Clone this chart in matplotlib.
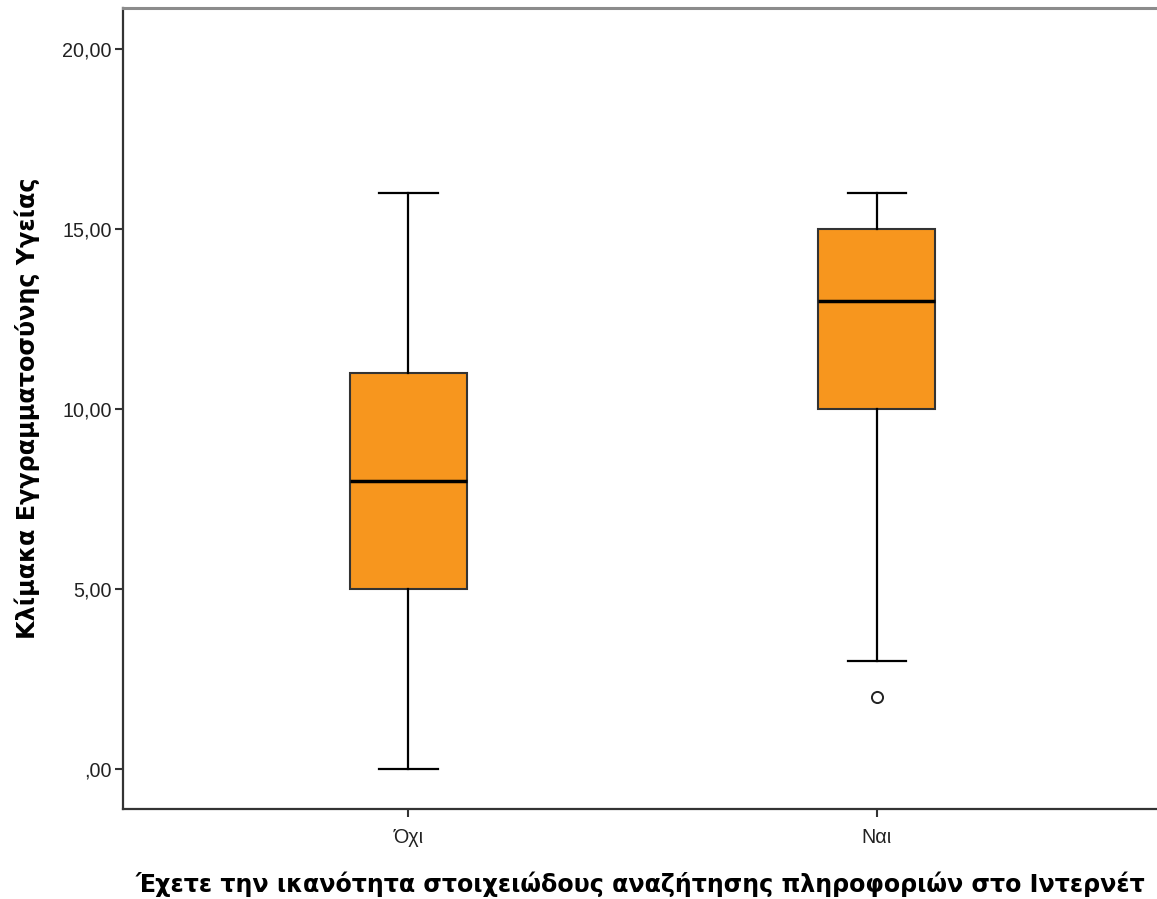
import matplotlib.pyplot as plt

# Summary statistics per group (SPSS-style boxplot)
groups = ['Όχι', 'Ναι']
q1 = [5.0, 10.0]
median = [8.0, 13.0]
q3 = [11.0, 15.0]
whisker_low = [0.0, 3.0]
whisker_high = [16.0, 16.0]
outliers = [[], [2.0]]

yticks = [0, 5, 10, 15, 20]
ytick_labels = [',00', '5,00', '10,00', '15,00', '20,00']

stats = []
for i, name in enumerate(groups):
    stats.append({
        'label': name,
        'q1': q1[i], 'med': median[i], 'q3': q3[i],
        'whislo': whisker_low[i], 'whishi': whisker_high[i],
        'fliers': outliers[i],
    })

fig = plt.figure(figsize=(11.57, 8.99), dpi=100)
ax = fig.add_axes([0.1063, 0.1001, 0.8945, 0.891])

ax.bxp(stats, positions=[1, 2], widths=0.25, patch_artist=True,
       boxprops=dict(facecolor='#f7961e', edgecolor='#333333', linewidth=1.5),
       medianprops=dict(color='black', linewidth=2.5),
       whiskerprops=dict(color='black', linewidth=1.6),
       capprops=dict(color='black', linewidth=1.6),
       capwidths=0.125,
       flierprops=dict(marker='o', markerfacecolor='white', markeredgecolor='#222222',
                       markersize=8, markeredgewidth=1.4))

ax.set_xlim(0.391, 2.6)
ax.set_ylim(-1.1, 21.15)
ax.set_yticks(yticks)
ax.set_yticklabels(ytick_labels, family='Liberation Sans', fontsize=14.2)
ax.set_xticks([1, 2])
ax.set_xticklabels(groups, family='Liberation Sans', fontsize=14.2)

for side in ['left', 'bottom']:
    ax.spines[side].set_color('#333333')
    ax.spines[side].set_linewidth(1.6)
ax.spines['top'].set_color('#8c8c8c')
ax.spines['top'].set_linewidth(2.2)
ax.spines['right'].set_visible(False)

ax.tick_params(axis='both', direction='out', length=6, width=1.5, color='#333333',
               labelcolor='#222222')
ax.tick_params(axis='y', pad=2)
ax.tick_params(axis='x', pad=8)

ax.set_ylabel('Κλίμακα Εγγραμματοσύνης Υγείας', family='DejaVu Sans',
              fontsize=17.2, fontweight='bold', labelpad=16)
ax.set_xlabel('Έχετε την ικανότητα στοιχειώδους αναζήτησης πληροφοριών στο Ιντερνέτ',
              family='DejaVu Sans', fontsize=17.1, fontweight='bold', labelpad=17)

fig.savefig('out.png', dpi=100)
